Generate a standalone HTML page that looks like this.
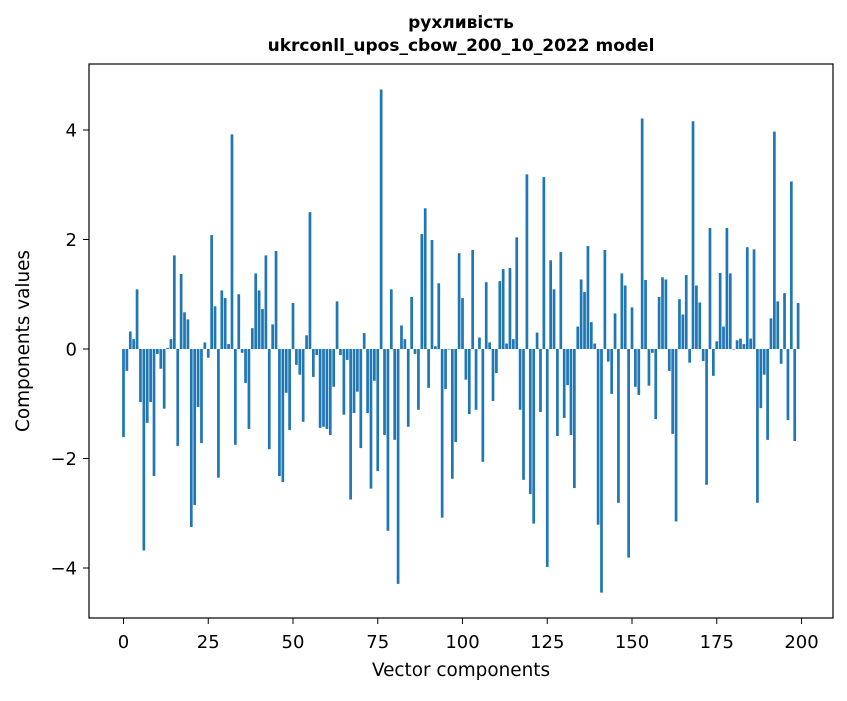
<!DOCTYPE html>
<html><head><meta charset="utf-8"><style>
html,body{margin:0;padding:0;background:#fff;}
svg text{font-family:"DejaVu Sans","Liberation Sans",sans-serif;fill:#000;}
</style></head><body>
<svg id="chart" width="847" height="696" viewBox="0 0 847 696" xmlns="http://www.w3.org/2000/svg">
<rect width="847" height="696" fill="#fff"/>
<text x="461" y="28" text-anchor="middle" font-size="17" font-weight="bold">рухливість</text>
<text x="461" y="51" text-anchor="middle" font-size="17" font-weight="bold">ukrconll_upos_cbow_200_10_2022 model</text>
<g id="bars"></g>
<g id="xaxis"></g>
<g id="yaxis"></g>
<rect x="89" y="64" width="744" height="554" fill="none" stroke="#000" stroke-width="1.2"/>
<text x="461" y="676" text-anchor="middle" font-size="18.4">Vector components</text>
<text transform="translate(29,341) rotate(-90)" text-anchor="middle" font-size="18.4">Components values</text>
</svg>
<script>
const values = [-1.61,-0.4,0.32,0.18,1.09,-0.97,-3.68,-1.35,-0.97,-2.32,
-0.09,-0.36,-1.09,0.02,0.18,1.71,-1.77,1.37,0.67,0.54,
-3.25,-2.85,-1.06,-1.72,0.12,-0.16,2.08,0.78,-2.35,1.07,
0.93,0.09,3.92,-1.75,1.0,-0.07,-0.62,-1.46,0.38,1.38,
1.07,0.73,1.71,-1.83,0.45,1.79,-2.32,-2.43,-0.8,-1.48,
0.84,-0.29,-0.47,-1.33,0.25,2.5,-0.51,-0.11,-1.44,-1.42,
-1.46,-1.57,-0.69,0.87,-0.11,-1.2,-0.2,-2.75,-1.17,-0.78,
-1.81,0.29,-1.17,-2.55,-0.58,-2.23,4.74,-1.57,-3.32,1.09,
-1.66,-4.29,0.43,0.18,-1.42,0.95,-0.09,-1.11,2.1,2.57,
-0.71,1.99,0.05,1.2,-3.08,-0.73,-0.01,-2.37,-1.7,1.75,
0.93,-0.56,-1.19,1.81,-1.11,0.21,-2.06,1.22,0.12,-0.95,
-0.44,1.24,1.46,0.1,1.48,0.18,2.04,-1.11,-2.39,3.19,
-2.65,-3.19,0.3,-1.15,3.14,-3.98,1.62,1.09,-1.59,1.77,
-1.26,-0.66,-1.57,-2.54,0.41,1.27,1.04,1.88,0.49,0.1,
-3.21,-4.45,1.81,-0.23,-0.82,0.65,-2.81,1.38,1.16,-3.81,
0.76,-0.69,-0.84,4.21,1.26,-0.67,-0.07,-1.28,0.95,1.31,
1.27,-0.4,-1.55,-3.15,0.91,0.63,1.35,-0.25,4.16,1.16,
0.85,-0.22,-2.48,2.21,-0.49,0.14,1.39,0.41,2.21,1.38,
-0.01,0.16,0.19,0.09,1.86,0.19,1.82,-2.81,-1.08,-0.47,
-1.66,0.56,3.97,0.87,-0.27,1.02,-1.3,3.06,-1.68,0.84];
const xTicks = [0,25,50,75,100,125,150,175,200];
const yTicks = [-4,-2,0,2,4];
const yTickLabels = ["\u22124","\u22122","0","2","4"];

const NS="http://www.w3.org/2000/svg";
function xScale(v){return 123.5 + v*3.39;}
function yScale(v){return 349 - v*54.75;}
const bars=document.getElementById('bars');
values.forEach((v,i)=>{
  const r=document.createElementNS(NS,'rect');
  
  
  const w=0.8*3.39;
  r.setAttribute('x',xScale(i)-w/2);
  r.setAttribute('width',w);
  r.setAttribute('y',Math.min(yScale(v),yScale(0)));
  r.setAttribute('height',Math.abs(yScale(v)-yScale(0)));
  r.setAttribute('fill','#1f77b4');
  bars.appendChild(r);
});
const xa=document.getElementById('xaxis');
xTicks.forEach(t=>{
  const l=document.createElementNS(NS,'line');
  
  
  l.setAttribute('x1',xScale(t));l.setAttribute('x2',xScale(t));
  l.setAttribute('y1',618);l.setAttribute('y2',624);
  l.setAttribute('stroke','#000');
  xa.appendChild(l);
  const tx=document.createElementNS(NS,'text');
  
  
  tx.setAttribute('x',xScale(t));tx.setAttribute('y',648);
  tx.setAttribute('text-anchor','middle');tx.setAttribute('font-size','18');
  tx.textContent=String(t);
  xa.appendChild(tx);
});
const ya=document.getElementById('yaxis');
yTicks.forEach((t,k)=>{
  const l=document.createElementNS(NS,'line');
  
  
  l.setAttribute('x1',83);l.setAttribute('x2',89);
  l.setAttribute('y1',yScale(t));l.setAttribute('y2',yScale(t));
  l.setAttribute('stroke','#000');
  ya.appendChild(l);
  const tx=document.createElementNS(NS,'text');
  
  
  tx.setAttribute('x',77);tx.setAttribute('y',yScale(t)+6.5);
  tx.setAttribute('text-anchor','end');tx.setAttribute('font-size','18');
  tx.textContent=yTickLabels[k];
  ya.appendChild(tx);
});
</script>
</body></html>
